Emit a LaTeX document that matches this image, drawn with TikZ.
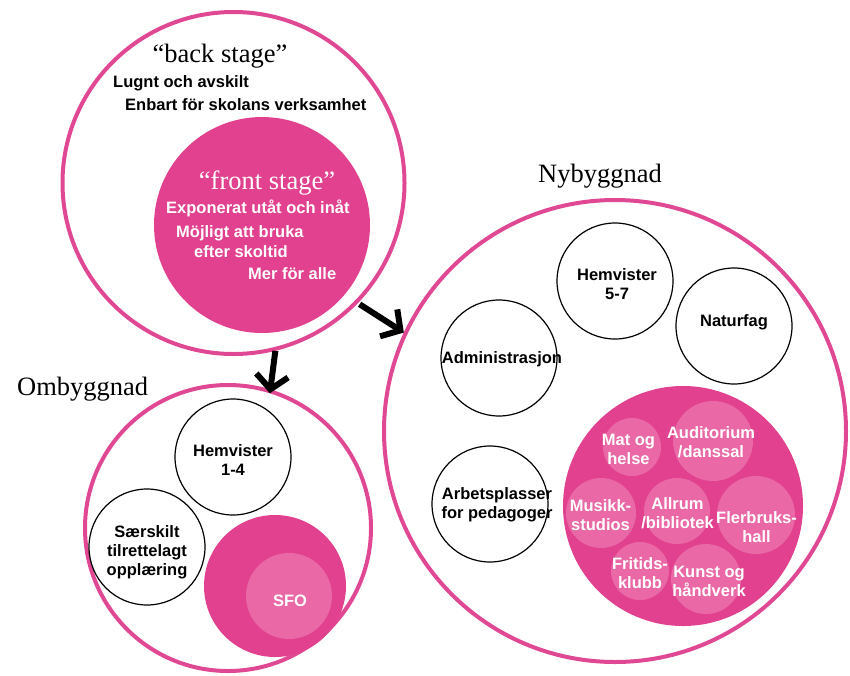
\documentclass[tikz,border=0pt]{standalone}
\usepackage{fontspec}
\setmainfont{Liberation Serif}
\setsansfont{Liberation Sans}
\usetikzlibrary{arrows.meta}
\definecolor{pk}{RGB}{225,65,142}
\definecolor{pkl}{RGB}{233,104,165}
\definecolor{pkline}{RGB}{224,72,148}
\begin{document}
\begin{tikzpicture}[x=1pt,y=-1pt,
 ring/.style={circle,draw=pkline,line width=4pt,inner sep=0pt,minimum size=#1},
 wc/.style={circle,draw=black,line width=1.2pt,inner sep=0pt,minimum size=#1},
 pc/.style={circle,fill=pk,inner sep=0pt,minimum size=#1},
 lc/.style={circle,fill=pkl,inner sep=0pt,minimum size=#1},
 lab/.style={font=\sffamily\bfseries\fontsize{16.5}{19}\selectfont,align=center,inner sep=0pt},
 wlab/.style={lab,text=white},
 ttl/.style={font=\fontsize{26.5}{30}\selectfont,inner sep=0pt},
 arr/.style={line width=6pt,-{Straight Barb[length=14pt,width=32pt]}}
]
\useasboundingbox (0,0) rectangle (850,675);
% top circle
\node[ring=342pt] (back) at (233.5,183) {};
\node[pc=216pt] (front) at (262,225) {};
\node[ttl,anchor=base] (tback) at (220,62) {“back stage”};
\node[lab,anchor=base west] (t1) at (113,87) {Lugnt och avskilt};
\node[lab,anchor=base west] (t2) at (125,110) {Enbart för skolans verksamhet};
\node[ttl,text=white,anchor=base] (tfront) at (267,189) {“front stage”};
\node[wlab,anchor=base west] (f1) at (166,213) {Exponerat utåt och inåt};
\node[wlab,anchor=base west] (f2) at (176,237) {Möjligt att bruka};
\node[wlab,anchor=base west] (f3) at (194,257) {efter skoltid};
\node[wlab,anchor=base west] (f4) at (248,279) {Mer för alle};
% Ombyggnad
\node[ttl,anchor=base west] (tomb) at (17,395) {Ombyggnad};
\node[ring=286pt] (omb) at (228,528) {};
\node[wc=116pt] (h14) at (233,457) {};
\node[wc=116pt] (sars) at (147,547) {};
\node[pc=142pt] (sfoo) at (275,586) {};
\node[lc=86pt] (sfo) at (289,596) {};
\node[lab] (lh14) at (233,460) {Hemvister\\1-4};
\node[lab] (lsars) at (147,552) {Særskilt\\tilrettelagt\\opplæring};
\node[wlab] (lsfo) at (290,601) {SFO};
% Nybyggnad
\node[ttl,anchor=base] (tnyb) at (600,182) {Nybyggnad};
\node[ring=462pt] (nyb) at (615,431) {};
\node[wc=116pt] (h57) at (615,281) {};
\node[wc=116pt] (nat) at (734,326) {};
\node[wc=116pt] (adm) at (499,358) {};
\node[wc=116pt] (arb) at (490,504) {};
\node[lab] (lh57) at (617,284) {Hemvister\\5-7};
\node[lab] (lnat) at (734,322) {Naturfag};
\node[lab] (ladm) at (502,359) {Administrasjon};
\node[lab] (larb) at (497,505) {Arbetsplasser\\for pedagoger};
% pink cluster
\node[pc=240pt] (clu) at (683,506) {};
\node[lc=58pt] (mat) at (632,447) {};
\node[lc=80pt] (aud) at (713,441) {};
\node[lc=70pt] (mus) at (601,513) {};
\node[lc=66pt] (all) at (677,511) {};
\node[lc=78pt] (fle) at (756,515) {};
\node[lc=58pt] (fri) at (640,571) {};
\node[lc=70pt] (kun) at (706,579) {};
\node[wlab] (lmat) at (628.5,449) {Mat og\\helse};
\node[wlab] (laud) at (711,442) {Auditorium\\/danssal};
\node[wlab] (lmus) at (600.5,515) {Musikk-\\studios};
\node[wlab] (lall) at (677.5,513) {Allrum\\/bibliotek};
\node[wlab] (lfle) at (756.5,527) {Flerbruks-\\hall};
\node[wlab] (lfri) at (640,573) {Fritids-\\klubb};
\node[wlab] (lkun) at (709,581) {Kunst og\\håndverk};
% arrows
\draw[arr,shorten <=2pt] (back.-44.6) -- (nyb.155.2);
\draw[arr,shorten >=-4pt] (back.-76) -- (omb.73.5);
\end{tikzpicture}
\end{document}
